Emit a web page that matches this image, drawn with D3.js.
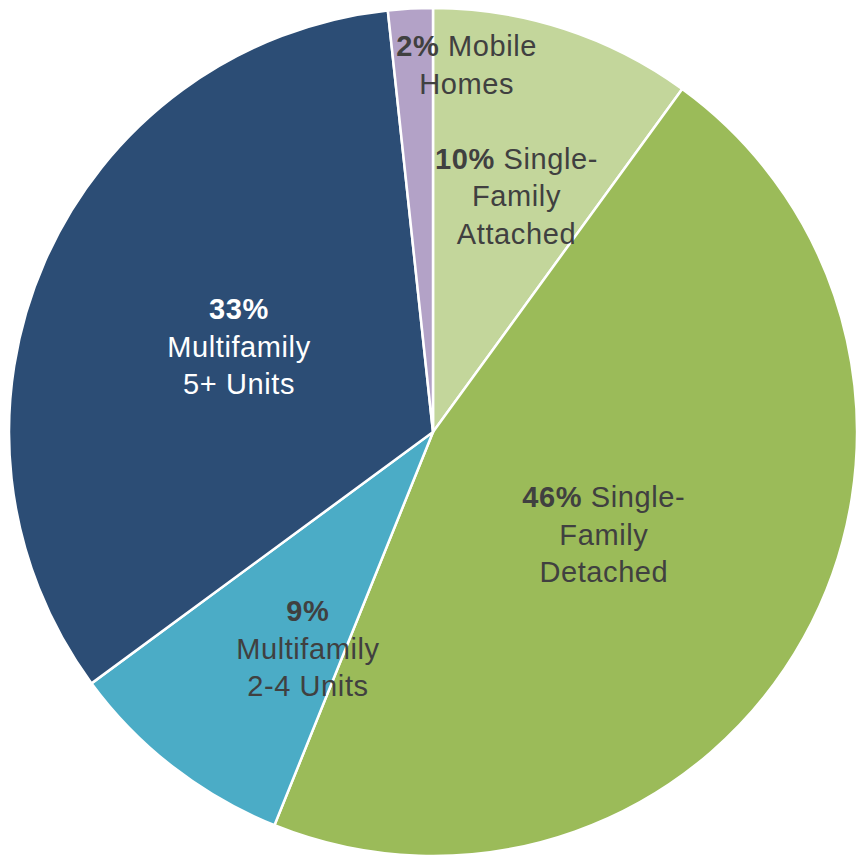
<!DOCTYPE html>
<html>
<head>
<meta charset="utf-8">
<script src="https://cdn.jsdelivr.net/npm/d3@7"></script>
<style>
  body { margin: 0; background: #fff; }
  text { font-family: "Liberation Sans", Arial, sans-serif; }
</style>
</head>
<body>
<div id="chart"></div>
<script>
// housing stock by structure type (clockwise from 12 o'clock)
const categories = ['Single-Family Attached', 'Single-Family Detached', 'Multifamily 2-4 Units', 'Multifamily 5+ Units', 'Mobile Homes'];
const values = [10.0, 46.1, 8.8, 33.4, 1.7];
const pctLabels = ['10%', '46%', '9%', '33%', '2%'];
// first line follows the bold percentage
const labelLines = [
  ['Single-', 'Family', 'Attached'],
  ['Single-', 'Family', 'Detached'],
  ['', 'Multifamily', '2-4 Units'],
  ['', 'Multifamily', '5+ Units'],
  ['Mobile', 'Homes']
];

const colors = ['#c3d69b', '#9bbb59', '#4bacc6', '#2c4d75', '#b3a2c7'];
const textColors = ['#404040', '#404040', '#404040', '#ffffff', '#404040'];
// label placement: fraction of radius and angle nudge (degrees)
const labelR = [0.59, 0.47, 0.59, 0.5, 0.87];
const labelNudge = [1.5, 2, -7.8, 0, 8.3];

const width = 856, height = 858;
const cx = 433, cy = 432, radius = 424;

const svg = d3.select('#chart').append('svg')
  .attr('width', width)
  .attr('height', height);

const g = svg.append('g')
  .attr('transform', 'translate(' + cx + ',' + cy + ')');

const data = categories.map((c, i) => ({ name: c, value: values[i], i: i }));

const pie = d3.pie()
  .value(d => d.value)
  .sort(null);

const arc = d3.arc()
  .innerRadius(0)
  .outerRadius(radius);

const arcs = pie(data);

g.selectAll('.slice')
  .data(arcs)
  .enter().append('path')
  .attr('class', 'slice')
  .attr('d', arc)
  .attr('fill', d => colors[d.data.i])
  .attr('stroke', '#fff')
  .attr('stroke-width', 2.5);

const lineH = 37.5;

const labels = g.selectAll('.label')
  .data(arcs)
  .enter().append('text')
  .attr('class', 'label')
  .attr('text-anchor', 'middle')
  .style('font-size', '29px')
  .style('letter-spacing', '0.6px')
  .attr('fill', d => textColors[d.data.i])
  .each(function(d) {
    const i = d.data.i;
    const mid = (d.startAngle + d.endAngle) / 2 + labelNudge[i] * Math.PI / 180;
    const r = radius * labelR[i];
    const x = Math.sin(mid) * r;
    const y = -Math.cos(mid) * r;
    const lines = labelLines[i];
    const t = d3.select(this);
    lines.forEach((ln, k) => {
      const yy = y + (k - (lines.length - 1) / 2) * lineH;
      const tspan = t.append('tspan')
        .attr('x', x)
        .attr('y', yy)
        .attr('dy', '0.35em');
      if (k === 0) {
        tspan.append('tspan')
          .attr('font-weight', 'bold')
          .text(pctLabels[i]);
        if (ln) tspan.append('tspan').text(' ' + ln);
      } else {
        tspan.text(ln);
      }
    });
  });
</script>
</body>
</html>
